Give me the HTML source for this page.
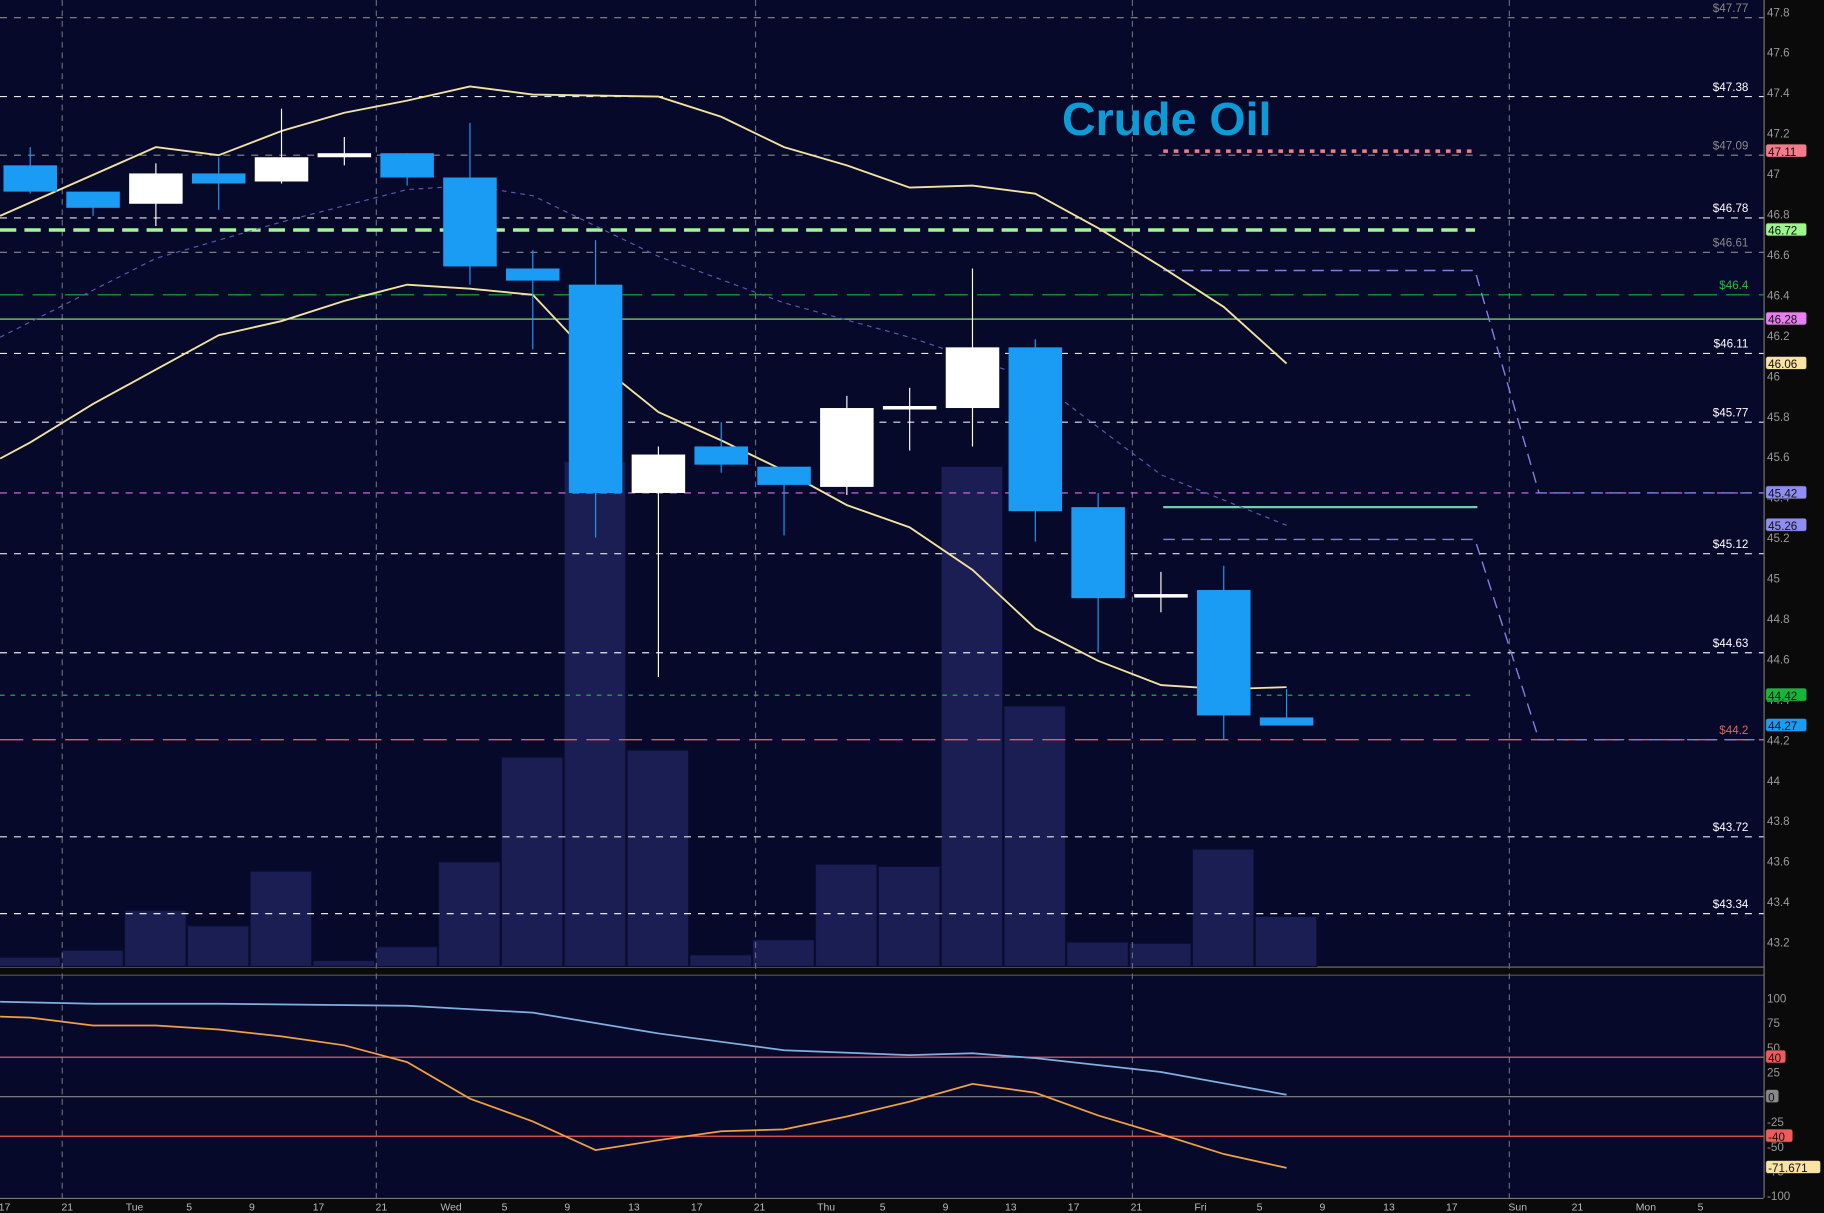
<!DOCTYPE html>
<html><head><meta charset="utf-8">
<style>
html,body{margin:0;padding:0;background:#0a0a0a;}
svg{display:block;}
text{font-family:"Liberation Sans",sans-serif;}
</style></head>
<body>
<svg id="chart" width="1824" height="1213" viewBox="0 0 1568 1043" preserveAspectRatio="none" xmlns="http://www.w3.org/2000/svg">
<rect x="0" y="0" width="1568" height="1043" fill="#0a0a0a"/>
<rect x="0" y="0" width="1516" height="831" fill="#07092a"/>
<rect x="0" y="839" width="1516" height="191" fill="#07092a"/>
<line x1="0" y1="831.5" x2="1516" y2="831.5" stroke="#777"/>
<line x1="0" y1="838.5" x2="1516" y2="838.5" stroke="#555"/>
<line x1="0" y1="1030.5" x2="1516" y2="1030.5" stroke="#777"/>
<line x1="1516.5" y1="0" x2="1516.5" y2="1030" stroke="#777"/>
<g id="volume"></g>
<g id="grid"></g>
<g id="levels"></g>
<g id="lines"></g>
<g id="candles"></g>
<g id="osc"></g>
<g id="axes"></g>
<text x="913" y="116" font-size="40" font-weight="bold" fill="#0d9bd8">Crude Oil</text>
</svg>
<script>
const opens  =[47.04,46.91,46.85,47.00,46.96,47.08,47.10,46.98,46.53,46.45,45.42,45.65,45.55,45.45,45.85,45.84,46.14,45.35,44.92,44.94,44.31];
const highs  =[47.13,46.91,47.05,47.08,47.32,47.18,47.10,47.25,46.62,46.67,45.65,45.77,45.55,45.90,45.94,46.53,46.18,45.42,45.03,45.06,44.45];
const lows   =[46.90,46.79,46.74,46.82,46.95,47.04,46.94,46.45,46.13,45.20,44.51,45.52,45.21,45.41,45.63,45.65,45.18,44.63,44.83,44.20,44.27];
const closes =[46.91,46.83,47.00,46.95,47.08,47.10,46.98,46.54,46.47,45.42,45.61,45.56,45.46,45.84,45.85,46.14,45.33,44.90,44.92,44.32,44.27];
const volumes=[8,14,48,35,82,5,17,90,180,434,186,10,23,88,86,430,224,21,20,101,43];
const upperIdx=[-0.48,2,3,4,5,6,7,8,10,11,12,13,14,15,16,17,18,19,20];
const upperVal=[46.79,47.13,47.09,47.21,47.30,47.36,47.43,47.39,47.38,47.28,47.13,47.04,46.93,46.94,46.90,46.73,46.54,46.34,46.06];
const lowerIdx=[-0.48,0,1,2,3,4,5,6,7,8,9,10,11,12,13,14,15,16,17,18,19,20];
const lowerVal=[45.59,45.67,45.86,46.03,46.20,46.27,46.37,46.45,46.43,46.40,46.07,45.82,45.68,45.53,45.36,45.25,45.04,44.75,44.59,44.47,44.45,44.46];
const midIdx=[-0.48,2,4,6,7,8,10,12,14,16,18,20];
const midVal=[46.19,46.58,46.76,46.92,46.94,46.89,46.59,46.36,46.19,45.98,45.51,45.26];
const oscBlueIdx=[-0.48,1,3,6,8,10,12,14,15,16,18,20];
const oscBlueVal=[96,94,94,92,85,64,47,42,44,39,25,2];
const oscOrangeVal=[81,80,72,72,68,61,52,35,-2,-25,-54,-44,-35,-33,-20,-5,13,4,-19,-38,-58,-72];
const oscOrangeIdx=[-0.48,0,1,2,3,4,5,6,7,8,9,10,11,12,13,14,15,16,17,18,19,20];
const priceTicks=[47.8,47.6,47.4,47.2,47,46.8,46.6,46.4,46.2,46,45.8,45.6,45.4,45.2,45,44.8,44.6,44.4,44.2,44,43.8,43.6,43.4,43.2];
const oscTicks=[100,75,50,25,-25,-50,-75,-100];
const whiteLevels=[47.38,46.78,46.11,45.77,45.12,44.63,43.72,43.34];
const grayLevels=[47.77,47.09,46.61];
const timeLabels=["17","21","Tue","5","9","17","21","Wed","5","9","13","17","21","Thu","5","9","13","17","21","Fri","5","9","13","17","Sun","21","Mon","5"];
const timeLabelIdx=[-0.41,0.59,1.66,2.53,3.53,4.59,5.59,6.7,7.55,8.55,9.61,10.61,11.61,12.67,13.57,14.57,15.61,16.61,17.61,18.63,19.57,20.57,21.63,22.63,23.68,24.63,25.72,26.59];
const badges=[[47.11,"47.11","#f47c8a"],[46.72,"46.72","#9ef58e"],[46.28,"46.28","#ea7ef0"],[46.06,"46.06","#f9e3a3"],[45.42,"45.42","#8e8ef2"],[45.26,"45.26","#8e8ef2"],[44.42,"44.42","#16b63a"],[44.27,"44.27","#1a9cf5"]];

const NS="http://www.w3.org/2000/svg";
const xs=i=>26+54*i;
const yp=p=>10+(47.8-p)*173.9;
const yo=v=>943-v*0.85;
const volBase=831;
const yv=v=>volBase-v;
function mk(tag,attrs,parent){const e=document.createElementNS(NS,tag);for(const k in attrs)e.setAttribute(k,attrs[k]);document.getElementById(parent).appendChild(e);return e;}

[53,323,649,973,1297].forEach(x=>{
 const l=mk('line',{x1:x+.5,y1:0,x2:x+.5,y2:1030,stroke:'#6a6a7a','stroke-dasharray':'5,4','stroke-width':1},'grid');
 
 
});
whiteLevels.forEach(p=>{
 const l=mk('line',{x1:0,y1:yp(p),x2:1516,y2:yp(p),stroke:'#e8e8e8','stroke-dasharray':'6,6'},'levels');
 
 
 const t=mk('text',{x:1503,y:yp(p)-5,'font-size':10,fill:'#fff','text-anchor':'end'},'levels');t.textContent='$'+p;
 
 
});
grayLevels.forEach(p=>{
 const l=mk('line',{x1:0,y1:yp(p),x2:1516,y2:yp(p),stroke:'#8a8a8a','stroke-dasharray':'6,6'},'levels');
 
 
 const t=mk('text',{x:1503,y:yp(p)-5,'font-size':10,fill:'#888','text-anchor':'end'},'levels');t.textContent='$'+p;
 
 
});
function hl(p,x1,x2,color,dash,w,name){const l=mk('line',{x1:x1,y1:yp(p),x2:x2,y2:yp(p),stroke:color,'stroke-width':w},'levels');if(dash)l.setAttribute('stroke-dasharray',dash);
 
 }
hl(46.4,0,1516,'#13b430','20,8',1,'level-46-4');
{const t=mk('text',{x:1503,y:yp(46.4)-5,'font-size':10,fill:'#1ec23c','text-anchor':'end'},'levels');t.textContent='$46.4';
 
 }
hl(46.28,0,1516,'#8ef57a',null,1,'level-46-28');
hl(44.2,0,1516,'#f25a5a','20,8',1.2,'level-44-2');
{const t=mk('text',{x:1503,y:yp(44.2)-5,'font-size':10,fill:'#f25a5a','text-anchor':'end'},'levels');t.textContent='$44.2';
 
 }
hl(45.42,0,1516,'#e070e8','6,6',1,'level-45-42');
hl(44.42,0,1268,'#1ec23c','4,5',1,'level-44-42');
hl(46.72,0,1268,'#a4f59a','14,7',3,'level-46-72');
hl(47.11,1000,1270,'#f47c8a','4,5',3,'level-47-11');
hl(45.35,1000,1270,'#6fd1a8',null,2,'level-45-35');
[[46.52,45.42],[45.19,44.2]].forEach(([a,b])=>{
 const pl=mk('polyline',{points:`1000,${yp(a)} 1268,${yp(a)} 1323,${yp(b)} 1516,${yp(b)}`,fill:'none',stroke:'#8080e0','stroke-dasharray':'10,6','stroke-width':1.2},'levels');
 
 
});
volumes.forEach((v,i)=>{
 const r=mk('rect',{x:xs(i)-27,y:yv(v),width:53,height:v,fill:'#1b1e52',stroke:'#0a0c30','stroke-width':1},'volume');
 
 
});
function line(idx,vals,f,color,dash,w,name,parent){
 const pts=idx.map((i,k)=>xs(i)+','+f(vals[k])).join(' ');
 const p=mk('polyline',{points:pts,fill:'none',stroke:color,'stroke-width':w},parent);
 if(dash)p.setAttribute('stroke-dasharray',dash);
 
 
}
line(midIdx,midVal,yp,'#5a5ab0','4,4',1,'middle-band','lines');
line(upperIdx,upperVal,yp,'#f3e3a0',null,1.6,'upper-band','lines');
line(lowerIdx,lowerVal,yp,'#f3e3a0',null,1.6,'lower-band','lines');
opens.forEach((o,i)=>{
 const c=closes[i],x=xs(i);
 const up=c>=o;const col=up?'#ffffff':'#1a9cf5';
 const w=mk('line',{x1:x,y1:yp(highs[i]),x2:x,y2:yp(lows[i]),stroke:col,'stroke-width':1},'candles');
 
 
 const top=yp(Math.max(o,c)),bot=yp(Math.min(o,c));
 const r=mk('rect',{x:x-23,y:top,width:46,height:Math.max(bot-top,3),fill:col},'candles');
 
 
});
function ol(v,color,name){const l=mk('line',{x1:0,y1:yo(v),x2:1516,y2:yo(v),stroke:color,'stroke-width':1},'osc');
 
 }
ol(40,'#f06a7a','osc-overbought');ol(-40,'#f05a5a','osc-oversold');ol(0,'#888','osc-zero');
line(oscBlueIdx,oscBlueVal,yo,'#7fb0e0',null,1.5,'osc-signal','osc');
line(oscOrangeIdx,oscOrangeVal,yo,'#f0a040',null,1.5,'osc-main','osc');
priceTicks.forEach(p=>{const t=mk('text',{x:1519,y:yp(p)+4,'font-size':10,fill:'#999'},'axes');t.textContent=String(p);
 
 });
oscTicks.forEach(v=>{const t=mk('text',{x:1519,y:yo(v)+4,'font-size':10,fill:'#999'},'axes');t.textContent=String(v);
 
 });
function badge(y,txt,bg,name){
 const w=txt.length*6+5;
 const r=mk('rect',{x:1518,y:y-6,width:w,height:11,rx:2,fill:bg,stroke:'#333','stroke-width':.5},'axes');
 
 
 const t=mk('text',{x:1520,y:y+4,'font-size':10,fill:'#111'},'axes');t.textContent=txt;
 
 
}
badges.forEach(b=>badge(yp(b[0]),b[1],b[2],'price-badge'));
badge(yo(40),'40','#f05a5a','osc-badge');
badge(yo(0),'0','#888','osc-badge');
badge(yo(-40),'-40','#f05a5a','osc-badge');
badge(yo(-71.671),'-71.671','#f9e3a3','osc-badge');
timeLabels.forEach((s,k)=>{const t=mk('text',{x:xs(timeLabelIdx[k]),y:1041,'font-size':9,fill:'#bbb','text-anchor':'middle'},'axes');t.textContent=s;
 
 });
</script>
</body></html>
